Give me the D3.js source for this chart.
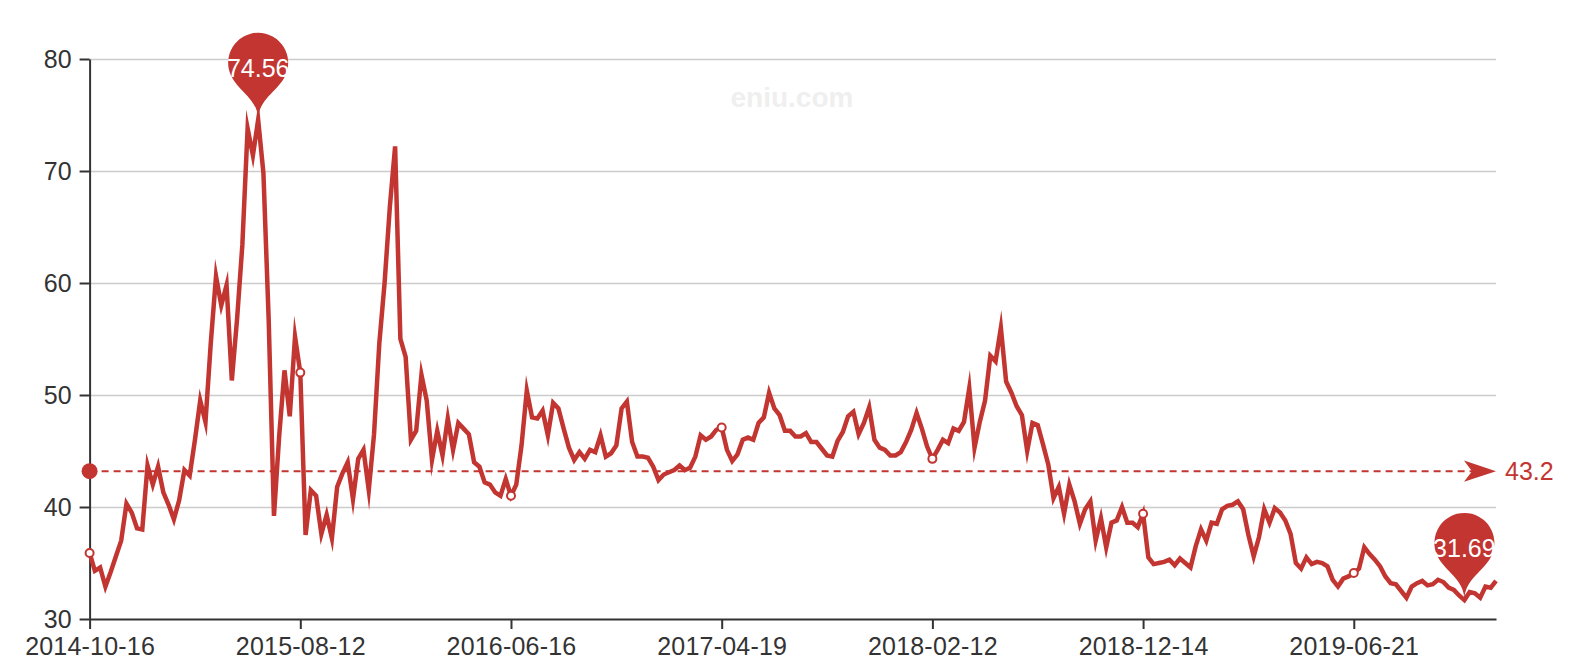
<!DOCTYPE html>
<html>
<head>
<meta charset="utf-8">
<script src="https://cdn.jsdelivr.net/npm/d3@7/dist/d3.min.js"></script>
<style>
  html, body { margin: 0; padding: 0; background: #ffffff; }
  svg { display: block; }
</style>
</head>
<body>
<svg id="chart" width="1596" height="664"></svg>
<script>
// ---------------- DATA ----------------
const tickLabels = ["2014-10-16", "2015-08-12", "2016-06-16", "2017-04-19", "2018-02-12", "2018-12-14", "2019-06-21"];
const yTickValues = [30, 40, 50, 60, 70, 80];
const labelInterval = 40;          // categories between two x-axis labels
const averageValue = 43.2;         // mark line (average) value shown on the chart
const watermarkText = "eniu.com";

// series values, one block per x-axis label interval
const values2014 = [35.9, 34.3, 34.6, 32.9, 34.2, 35.6, 37.0, 40.3, 39.5, 38.1,
                    38.0, 43.7, 42.0, 43.6, 41.3, 40.2, 38.9, 40.6, 43.3, 42.8,
                    46.0, 49.5, 47.6, 54.6, 60.6, 58.0, 59.8, 51.3, 56.8, 63.4,
                    73.8, 71.4, 74.56, 69.8, 56.7, 39.2, 46.4, 52.2, 48.1, 55.2];
const values2015 = [52.0, 37.5, 41.5, 41.0, 37.6, 39.3, 37.2, 41.8, 43.0, 44.0,
                    40.7, 44.3, 45.1, 41.5, 46.5, 54.6, 60.0, 66.8, 72.2, 55.0,
                    53.4, 46.0, 46.8, 51.8, 49.5, 44.2, 46.8, 44.6, 47.9, 45.1,
                    47.5, 47.0, 46.5, 44.0, 43.6, 42.2, 42.0, 41.3, 41.0, 42.5];
const values2016 = [41.0, 42.0, 45.5, 50.4, 48.0, 47.9, 48.6, 46.4, 49.3, 48.8,
                    47.0, 45.3, 44.2, 44.9, 44.3, 45.1, 44.9, 46.4, 44.5, 44.8,
                    45.5, 48.8, 49.4, 45.8, 44.5, 44.5, 44.4, 43.6, 42.4, 42.9,
                    43.1, 43.3, 43.7, 43.3, 43.5, 44.5, 46.4, 46.0, 46.3, 46.9];
const values2017 = [47.1, 45.1, 44.1, 44.7, 46.0, 46.2, 46.0, 47.5, 48.0, 50.2,
                    48.8, 48.2, 46.8, 46.8, 46.3, 46.3, 46.6, 45.8, 45.8, 45.2,
                    44.6, 44.5, 45.9, 46.7, 48.1, 48.5, 46.5, 47.5, 48.9, 46.0,
                    45.3, 45.1, 44.6, 44.6, 44.9, 45.8, 46.9, 48.4, 47.0, 45.4];
const values2018a = [44.3, 45.1, 46.0, 45.7, 47.0, 46.8, 47.6, 50.6, 45.3, 47.6,
                     49.5, 53.5, 53.0, 56.0, 51.2, 50.2, 49.0, 48.2, 45.0, 47.5,
                     47.3, 45.6, 43.8, 40.8, 41.8, 39.4, 42.0, 40.5, 38.5, 39.8,
                     40.5, 37.0, 39.0, 36.4, 38.6, 38.8, 40.0, 38.6, 38.6, 38.2];
const values2018b = [39.4, 35.5, 34.9, 35.0, 35.1, 35.3, 34.8, 35.4, 35.0, 34.6,
                     36.5, 38.0, 37.0, 38.6, 38.5, 39.8, 40.1, 40.2, 40.5, 39.8,
                     37.5, 35.6, 37.3, 39.8, 38.6, 39.9, 39.5, 38.8, 37.6, 35.0,
                     34.5, 35.5, 34.9, 35.1, 35.0, 34.7, 33.5, 32.9, 33.6, 33.8];
const values2019 = [34.1, 34.5, 36.4, 35.8, 35.3, 34.7, 33.8, 33.2, 33.1, 32.5,
                    31.9, 32.9, 33.2, 33.4, 33.0, 33.1, 33.5, 33.3, 32.8, 32.6,
                    32.1, 31.69, 32.4, 32.3, 31.9, 32.9, 32.8, 33.4];

const values = [].concat(values2014, values2015, values2016, values2017, values2018a, values2018b, values2019);
const categories = d3.range(values.length);

// ---------------- STYLE ----------------
const RED = "#c23531";
const AXIS = "#333333";
const GRID = "#cccccc";
const FONT = "'Liberation Sans', Arial, Helvetica, sans-serif";
const FS = 25;

const plot = { left: 89.6, right: 1496, top: 59, bottom: 619 };

const svg = d3.select("#chart");

const x = d3.scalePoint().domain(categories).range([plot.left, plot.right]);
const y = d3.scaleLinear().domain([d3.min(yTickValues), d3.max(yTickValues)]).range([plot.bottom, plot.top]);

// watermark
svg.append("text")
  .attr("x", 792).attr("y", 107)
  .attr("text-anchor", "middle")
  .attr("font-family", FONT)
  .attr("font-size", 28)
  .attr("font-weight", "bold")
  .attr("fill", "#efefef")
  .text(watermarkText);

// split lines
svg.append("g")
  .attr("transform", `translate(${plot.left},0)`)
  .call(d3.axisLeft(y).tickValues(yTickValues.filter(v => v > y.domain()[0])).tickSize(-(plot.right - plot.left)).tickFormat(""))
  .call(g => g.select(".domain").remove())
  .call(g => g.selectAll(".tick line").attr("stroke", GRID).attr("stroke-width", 1.5));

// y axis
svg.append("g")
  .attr("transform", `translate(${plot.left},0)`)
  .call(d3.axisLeft(y).tickValues(yTickValues).tickSize(10).tickSizeOuter(0).tickPadding(8).tickFormat(d3.format("d")))
  .call(g => g.select(".domain").attr("stroke", AXIS).attr("stroke-width", 2))
  .call(g => g.selectAll(".tick line").attr("stroke", AXIS).attr("stroke-width", 2))
  .call(g => g.selectAll(".tick text").attr("fill", AXIS).attr("font-family", FONT).attr("font-size", FS));

// x axis
const xTickValues = categories.filter(i => i % labelInterval === 0 && tickLabels[i / labelInterval] !== undefined);
svg.append("g")
  .attr("transform", `translate(0,${plot.bottom})`)
  .call(d3.axisBottom(x).tickValues(xTickValues).tickSize(10).tickSizeOuter(0).tickPadding(8).tickFormat(i => tickLabels[i / labelInterval]))
  .call(g => g.select(".domain").attr("stroke", AXIS).attr("stroke-width", 2))
  .call(g => g.selectAll(".tick line").attr("stroke", AXIS).attr("stroke-width", 2))
  .call(g => g.selectAll(".tick text").attr("fill", AXIS).attr("font-family", FONT).attr("font-size", FS).attr("letter-spacing", 0.2));

// series line
const line = d3.line().x((d, i) => x(categories[i])).y(d => y(d));
svg.append("path")
  .datum(values)
  .attr("d", line)
  .attr("fill", "none")
  .attr("stroke", RED)
  .attr("stroke-width", 4.5)
  .attr("stroke-linejoin", "miter")
  .attr("stroke-miterlimit", 10);

// symbols shown at labelled categories
svg.append("g").selectAll("circle")
  .data(xTickValues)
  .join("circle")
  .attr("cx", i => x(i))
  .attr("cy", i => y(values[i]))
  .attr("r", 4)
  .attr("fill", "#ffffff")
  .attr("stroke", RED)
  .attr("stroke-width", 2);

// average mark line
const yAvg = y(averageValue);
const ml = svg.append("g");
ml.append("line")
  .attr("x1", plot.left).attr("x2", plot.right - 24)
  .attr("y1", yAvg).attr("y2", yAvg)
  .attr("stroke", RED).attr("stroke-width", 2)
  .attr("stroke-dasharray", "7,5");
ml.append("circle")
  .attr("cx", plot.left).attr("cy", yAvg).attr("r", 8)
  .attr("fill", RED);
const arrowLen = 32, arrowHalf = 16 * 2 / 3;
const ap = d3.path();
ap.moveTo(plot.right, yAvg);
ap.lineTo(plot.right - arrowLen, yAvg - arrowHalf);
ap.lineTo(plot.right - arrowLen * 3 / 4, yAvg);
ap.lineTo(plot.right - arrowLen, yAvg + arrowHalf);
ap.closePath();
ml.append("path").attr("d", ap.toString()).attr("fill", RED);
ml.append("text")
  .attr("x", plot.right + 9).attr("y", yAvg)
  .attr("dy", "0.36em")
  .attr("font-family", FONT).attr("font-size", FS)
  .attr("fill", RED)
  .text(String(averageValue));

// mark points (max / min) as pins
function pinPath(px, py, size) {
  const w = size * 3 / 5, h = Math.max(w, size), r = w / 2;
  const dy = r * r / (h - r);
  const cy = py - h + r + dy;
  const angle = Math.asin(dy / r);
  const dx = Math.cos(angle) * r;
  const tanX = Math.sin(angle), tanY = Math.cos(angle);
  const cpLen = r * 0.6, cpLen2 = r * 0.7;
  const p = d3.path();
  p.moveTo(px - dx, cy + dy);
  p.arc(px, cy, r, Math.PI - angle, Math.PI * 2 + angle);
  p.bezierCurveTo(px + dx - tanX * cpLen, cy + dy + tanY * cpLen, px, py - cpLen2, px, py);
  p.bezierCurveTo(px, py - cpLen2, px - dx + tanX * cpLen, cy + dy + tanY * cpLen, px - dx, cy + dy);
  p.closePath();
  return p.toString();
}
const markIdx = [d3.maxIndex(values), d3.minIndex(values)];
const mp = svg.append("g").selectAll("g").data(markIdx).join("g");
mp.append("path")
  .attr("d", i => pinPath(x(i), y(values[i]), 100))
  .attr("fill", RED);
mp.append("text")
  .attr("x", i => x(i))
  .attr("y", i => y(values[i]) - 52)
  .attr("dy", "0.36em")
  .attr("text-anchor", "middle")
  .attr("font-family", FONT).attr("font-size", FS)
  .attr("fill", "#ffffff")
  .text(i => String(values[i]));
</script>
</body>
</html>
